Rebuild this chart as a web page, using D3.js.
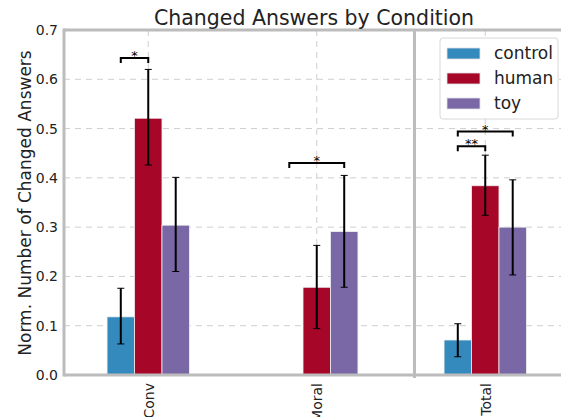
<!DOCTYPE html>
<html>
<head>
<meta charset="utf-8">
<script src="https://cdn.jsdelivr.net/npm/d3@7"></script>
<style>
  body { margin: 0; background: #fff; }
  text { font-family: "DejaVu Sans", sans-serif; fill: #222; }
</style>
</head>
<body>
<div id="chart"></div>
<script>
// data
var categories = ["Conv", "Moral", "Total"];
var groups = ["control", "human", "toy"];
var colors = ["#348ABD", "#A60628", "#7A68A6"];
var controlVals = [0.118, null, 0.071];
var humanVals = [0.521, 0.178, 0.384];
var toyVals = [0.304, 0.291, 0.300];
var controlErrLo = [0.063, null, 0.037];
var controlErrHi = [0.176, null, 0.104];
var humanErrLo = [0.426, 0.094, 0.324];
var humanErrHi = [0.620, 0.263, 0.446];
var toyErrLo = [0.210, 0.178, 0.203];
var toyErrHi = [0.401, 0.405, 0.396];
var yTicks = [0, 0.1, 0.2, 0.3, 0.4, 0.5, 0.6, 0.7];
// significance: category, group a, group b, height, label
var sigCat = [0, 1, 2, 2];
var sigFrom = [0, 0, 0, 0];
var sigTo = [1, 2, 1, 2];
var sigY = [0.643, 0.430, 0.464, 0.494];
var sigLabel = ["*", "*", "**", "*"];

var W = 561, H = 417;
var mLeft = 64, mTop = 30, mBottom = 375;
var barW = 0.163;

var svg = d3.select("#chart").append("svg")
  .attr("width", W).attr("height", H);

var x = d3.scaleLinear().domain([-0.5, 2.5]).range([mLeft, mLeft + 3 * 168.5]);
var y = d3.scaleLinear().domain([0, 0.7]).range([mBottom, mTop]);

svg.append("clipPath").attr("id", "clip")
  .append("rect").attr("x", mLeft).attr("y", mTop - 2).attr("width", W - mLeft).attr("height", mBottom - mTop + 4);

var plot = svg.append("g").attr("clip-path", "url(#clip)");

// grid
plot.selectAll(".hgrid").data(yTicks.slice(1)).enter().append("line")
  .attr("x1", mLeft).attr("x2", W)
  .attr("y1", function (d) { return y(d); }).attr("y2", function (d) { return y(d); })
  .style("stroke", "#cfcfcf").style("stroke-width", 1).style("stroke-dasharray", "6,5");
plot.selectAll(".vgrid").data(categories).enter().append("line")
  .attr("x1", function (d, i) { return x(i); }).attr("x2", function (d, i) { return x(i); })
  .attr("y1", mTop).attr("y2", mBottom)
  .style("stroke", "#cfcfcf").style("stroke-width", 1).style("stroke-dasharray", "6,5");

// bars
var vals = [controlVals, humanVals, toyVals];
var los = [controlErrLo, humanErrLo, toyErrLo];
var his = [controlErrHi, humanErrHi, toyErrHi];
var barData = [];
groups.forEach(function (g, gi) {
  categories.forEach(function (c, ci) {
    if (vals[gi][ci] != null) {
      barData.push({ g: gi, c: ci, v: vals[gi][ci], lo: los[gi][ci], hi: his[gi][ci] });
    }
  });
});
function cx(d) { return x(d.c + (d.g - 1) * barW); }
var bw = x(barW) - x(0);

plot.selectAll("rect.bar").data(barData).enter().append("rect")
  .attr("class", "bar")
  .attr("x", function (d) { return cx(d) - bw / 2; })
  .attr("width", bw)
  .attr("y", function (d) { return y(d.v); })
  .attr("height", function (d) { return mBottom - y(d.v); })
  .attr("fill", function (d) { return colors[d.g]; })
  .attr("stroke", "#f0f0f0").attr("stroke-width", 0.8);

// error bars
var eb = plot.selectAll("g.err").data(barData).enter().append("g");
eb.append("line")
  .attr("x1", cx).attr("x2", cx)
  .attr("y1", function (d) { return y(d.lo); }).attr("y2", function (d) { return y(d.hi); })
  .style("stroke", "#000").style("stroke-width", 2);
eb.append("line")
  .attr("x1", function (d) { return cx(d) - 3.5; }).attr("x2", function (d) { return cx(d) + 3.5; })
  .attr("y1", function (d) { return y(d.lo); }).attr("y2", function (d) { return y(d.lo); })
  .style("stroke", "#000").style("stroke-width", 1);
eb.append("line")
  .attr("x1", function (d) { return cx(d) - 3.5; }).attr("x2", function (d) { return cx(d) + 3.5; })
  .attr("y1", function (d) { return y(d.hi); }).attr("y2", function (d) { return y(d.hi); })
  .style("stroke", "#000").style("stroke-width", 1);

// separator
svg.append("line")
  .attr("x1", x(1.58)).attr("x2", x(1.58)).attr("y1", mTop).attr("y2", mBottom + 3)
  .style("stroke", "#bcbcbc").style("stroke-width", 3);

// significance brackets
sigCat.forEach(function (c, i) {
  var x1 = x(c + (sigFrom[i] - 1) * barW), x2 = x(c + (sigTo[i] - 1) * barW), yy = y(sigY[i]);
  svg.append("path")
    .attr("d", "M" + x1 + "," + (yy + 5) + "V" + yy + "H" + x2 + "V" + (yy + 5))
    .style("fill", "none").style("stroke", "#000").style("stroke-width", 2);
  svg.append("text")
    .attr("x", (x1 + x2) / 2).attr("y", yy + 2)
    .attr("text-anchor", "middle").style("font-size", "13px").style("fill", "#000")
    .text(sigLabel[i]);
});

// spines
svg.append("line").attr("x1", mLeft).attr("x2", mLeft).attr("y1", mTop - 1.5).attr("y2", mBottom + 1.5)
  .style("stroke", "#bcbcbc").style("stroke-width", 3);
svg.append("line").attr("x1", mLeft).attr("x2", W).attr("y1", mBottom).attr("y2", mBottom)
  .style("stroke", "#bcbcbc").style("stroke-width", 3);
svg.append("line").attr("x1", mLeft).attr("x2", W).attr("y1", mTop).attr("y2", mTop)
  .style("stroke", "#bcbcbc").style("stroke-width", 3);

// y axis
var yAxis = svg.append("g").attr("transform", "translate(" + (mLeft - 2) + ",0)")
  .call(d3.axisLeft(y).tickValues(yTicks).tickFormat(d3.format(".1f")).tickSize(0).tickPadding(4));
yAxis.select(".domain").remove();
yAxis.selectAll("text").style("font-size", "14px").style("fill", "#222").attr("font-family", "DejaVu Sans");

// x axis
var xAxis = svg.append("g").attr("transform", "translate(0," + (mBottom + 2) + ")")
  .call(d3.axisBottom(x).tickValues([0, 1, 2]).tickFormat(function (d) { return categories[d]; }).tickSize(0));
xAxis.select(".domain").remove();
xAxis.selectAll("text")
  .attr("transform", "rotate(-90)")
  .attr("x", -6).attr("y", 0).attr("dy", "0.35em")
  .style("text-anchor", "end").style("font-size", "14px").style("fill", "#222")
  .attr("font-family", "DejaVu Sans");

// title and label
svg.append("text").attr("x", 314).attr("y", 25).attr("text-anchor", "middle")
  .style("font-size", "20.5px").text("Changed Answers by Condition");
svg.append("text").attr("transform", "translate(31,203) rotate(-90)")
  .attr("text-anchor", "middle").style("font-size", "17px")
  .text("Norm. Number of Changed Answers");

// legend
var lg = svg.append("g").attr("transform", "translate(440,38)");
lg.append("rect").attr("width", 118).attr("height", 81).attr("rx", 3)
  .style("fill", "#fff").style("stroke", "#d8d8d8").style("stroke-width", 1);
groups.forEach(function (g, i) {
  lg.append("rect").attr("x", 7).attr("y", 10 + i * 25).attr("width", 33).attr("height", 11)
    .attr("fill", colors[i]).attr("stroke", "#e0e0e0").attr("stroke-width", 0.8);
  lg.append("text").attr("x", 54).attr("y", 21 + i * 25).style("font-size", "17px").text(g);
});
</script>
</body>
</html>
